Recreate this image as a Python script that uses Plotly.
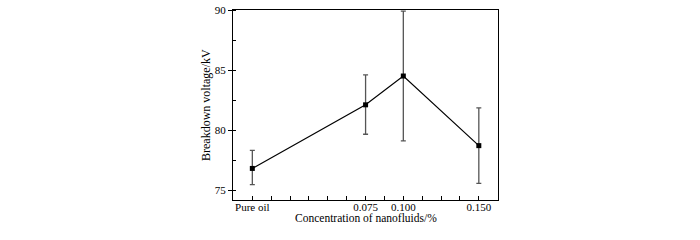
import plotly.graph_objects as go

conc = [0.0, 0.075, 0.100, 0.150]
voltage = [76.8, 82.1, 84.5, 78.7]
err_plus = [1.5, 2.5, 5.4, 3.15]
err_minus = [1.35, 2.45, 5.4, 3.15]
x_tick_vals = [0.0, 0.075, 0.100, 0.150]
x_tick_text = ["Pure oil", "0.075", "0.100", "0.150"]
y_tick_vals = [75, 80, 85, 90]
x_title = "Concentration of nanofluids/%"
y_title = "Breakdown voltage/kV"

fam = "Liberation Serif, Times New Roman, serif"
tick_font = dict(family=fam, size=11, color="black")
xtitle_font = dict(family=fam, size=11.5, color="black")
ytitle_font = dict(family=fam, size=12, color="black")

fig = go.Figure()
fig.add_trace(go.Scatter(
    x=conc, y=voltage, mode="lines+markers",
    line=dict(color="black", width=1.2),
    marker=dict(symbol="square", size=5, color="black"),
    error_y=dict(type="data", symmetric=False, array=err_plus, arrayminus=err_minus,
                 color="#555555", thickness=1.3, width=2.5),
    showlegend=False,
))

fig.add_annotation(text=x_title, xref="paper", yref="paper", x=0.5, y=0,
                   xanchor="center", yanchor="middle", yshift=-18, showarrow=False,
                   font=xtitle_font)
fig.add_annotation(text=y_title, xref="paper", yref="paper", x=0, y=0.5,
                   xanchor="center", yanchor="middle", xshift=-27, textangle=-90,
                   showarrow=False, font=ytitle_font)

fig.update_layout(
    width=700, height=240,
    margin=dict(l=233, r=202, t=10, b=40),
    plot_bgcolor="white", paper_bgcolor="white",
    font=tick_font,
    xaxis=dict(
        automargin=False,
        range=[-0.0128, 0.1627], tickvals=x_tick_vals, ticktext=x_tick_text,
        ticks="inside", ticklen=4, tickcolor="black", showgrid=False, zeroline=False,
        showline=True, linecolor="black", linewidth=1.2, mirror=True,
        minor=dict(dtick=0.0125, tick0=0, ticks="inside", ticklen=4, tickcolor="black", showgrid=False),
        tickfont=tick_font, ticklabelstandoff=-3, ticklabeloverflow="allow",
    ),
    yaxis=dict(
        automargin=False,
        range=[74.17, 90], tickvals=y_tick_vals,
        ticks="outside", ticklen=4, tickcolor="black", showgrid=False, zeroline=False,
        showline=True, linecolor="black", linewidth=1.2, mirror=True,
        minor=dict(dtick=2.5, tick0=75, ticks="inside", ticklen=3, tickcolor="black", showgrid=False),
        tickfont=tick_font, ticklabeloverflow="allow",
    ),
)

fig.write_html("out.html", config={"displayModeBar": False},
               post_script="document.body.style.margin='0';")
